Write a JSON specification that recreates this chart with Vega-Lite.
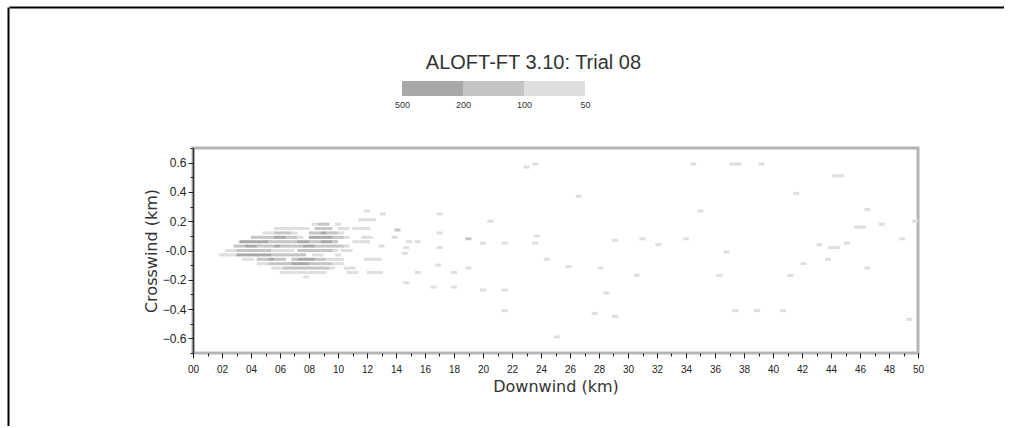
{
  "$schema": "https://vega.github.io/schema/vega-lite/v6.json",
  "background": "white",
  "padding": {"left": 8, "top": 7, "right": 0, "bottom": 0},
  "config": {"font": "Liberation Sans", "view": {"stroke": null}},
  "datasets": {
    "bands": [
      {"from": 500, "to": 200},
      {"from": 200, "to": 100},
      {"from": 100, "to": 50}
    ],
    "cluster": [
      {"x":1.16,"y":0.21,"conc":70},{"x":1.20,"y":0.21,"conc":70},{"x":1.24,"y":0.21,"conc":70},
      {"x":0.84,"y":0.18,"conc":70},{"x":0.88,"y":0.18,"conc":150},{"x":0.92,"y":0.18,"conc":150},{"x":1.00,"y":0.18,"conc":70},
      {"x":0.58,"y":0.15,"conc":70},{"x":0.62,"y":0.15,"conc":70},{"x":0.66,"y":0.15,"conc":70},{"x":0.70,"y":0.15,"conc":70},{"x":0.74,"y":0.15,"conc":70},{"x":0.78,"y":0.15,"conc":70},
      {"x":0.86,"y":0.15,"conc":150},{"x":0.90,"y":0.15,"conc":150},{"x":0.94,"y":0.15,"conc":150},
      {"x":1.02,"y":0.15,"conc":70},{"x":1.06,"y":0.15,"conc":70},{"x":1.12,"y":0.15,"conc":70},{"x":1.16,"y":0.15,"conc":70},{"x":1.20,"y":0.15,"conc":70},
      {"x":0.50,"y":0.12,"conc":70},{"x":0.54,"y":0.12,"conc":70},{"x":0.58,"y":0.12,"conc":150},{"x":0.62,"y":0.12,"conc":150},{"x":0.66,"y":0.12,"conc":150},{"x":0.70,"y":0.12,"conc":70},
      {"x":0.82,"y":0.12,"conc":150},{"x":0.86,"y":0.12,"conc":150},{"x":0.90,"y":0.12,"conc":320},{"x":0.94,"y":0.12,"conc":150},{"x":0.98,"y":0.12,"conc":150},{"x":1.02,"y":0.12,"conc":70},
      {"x":0.42,"y":0.09,"conc":150},{"x":0.46,"y":0.09,"conc":150},{"x":0.50,"y":0.09,"conc":150},{"x":0.54,"y":0.09,"conc":150},{"x":0.58,"y":0.09,"conc":320},{"x":0.62,"y":0.09,"conc":320},
      {"x":0.66,"y":0.09,"conc":150},{"x":0.70,"y":0.09,"conc":150},{"x":0.74,"y":0.09,"conc":70},{"x":0.82,"y":0.09,"conc":320},{"x":0.86,"y":0.09,"conc":320},{"x":0.90,"y":0.09,"conc":320},{"x":0.94,"y":0.09,"conc":320},
      {"x":0.98,"y":0.09,"conc":150},{"x":1.02,"y":0.09,"conc":150},{"x":1.06,"y":0.09,"conc":70},{"x":1.18,"y":0.09,"conc":70},{"x":1.22,"y":0.09,"conc":70},
      {"x":0.34,"y":0.06,"conc":320},{"x":0.38,"y":0.06,"conc":320},{"x":0.42,"y":0.06,"conc":320},{"x":0.46,"y":0.06,"conc":320},{"x":0.50,"y":0.06,"conc":320},
      {"x":0.54,"y":0.06,"conc":150},{"x":0.58,"y":0.06,"conc":150},{"x":0.62,"y":0.06,"conc":150},{"x":0.66,"y":0.06,"conc":150},{"x":0.70,"y":0.06,"conc":150},
      {"x":0.74,"y":0.06,"conc":320},{"x":0.78,"y":0.06,"conc":320},{"x":0.82,"y":0.06,"conc":150},{"x":0.86,"y":0.06,"conc":150},{"x":0.90,"y":0.06,"conc":320},{"x":0.94,"y":0.06,"conc":320},
      {"x":0.98,"y":0.06,"conc":150},{"x":1.12,"y":0.06,"conc":70},{"x":1.16,"y":0.06,"conc":70},{"x":1.20,"y":0.06,"conc":70},
      {"x":0.30,"y":0.03,"conc":150},{"x":0.34,"y":0.03,"conc":150},{"x":0.38,"y":0.03,"conc":320},{"x":0.42,"y":0.03,"conc":320},{"x":0.46,"y":0.03,"conc":150},{"x":0.50,"y":0.03,"conc":150},
      {"x":0.54,"y":0.03,"conc":150},{"x":0.58,"y":0.03,"conc":320},{"x":0.62,"y":0.03,"conc":150},{"x":0.66,"y":0.03,"conc":150},{"x":0.70,"y":0.03,"conc":150},{"x":0.74,"y":0.03,"conc":150},
      {"x":0.78,"y":0.03,"conc":320},{"x":0.82,"y":0.03,"conc":320},{"x":0.86,"y":0.03,"conc":150},{"x":0.90,"y":0.03,"conc":150},{"x":0.94,"y":0.03,"conc":150},{"x":0.98,"y":0.03,"conc":150},
      {"x":1.02,"y":0.03,"conc":150},{"x":1.06,"y":0.03,"conc":70},
      {"x":0.24,"y":0.00,"conc":70},{"x":0.28,"y":0.00,"conc":70},{"x":0.32,"y":0.00,"conc":150},{"x":0.36,"y":0.00,"conc":150},{"x":0.40,"y":0.00,"conc":150},{"x":0.44,"y":0.00,"conc":150},
      {"x":0.48,"y":0.00,"conc":150},{"x":0.52,"y":0.00,"conc":150},{"x":0.56,"y":0.00,"conc":70},{"x":0.60,"y":0.00,"conc":70},{"x":0.64,"y":0.00,"conc":70},{"x":0.68,"y":0.00,"conc":70},
      {"x":0.74,"y":0.00,"conc":150},{"x":0.78,"y":0.00,"conc":150},{"x":0.82,"y":0.00,"conc":150},{"x":0.86,"y":0.00,"conc":150},{"x":0.90,"y":0.00,"conc":150},{"x":0.94,"y":0.00,"conc":150},
      {"x":0.98,"y":0.00,"conc":70},{"x":1.04,"y":0.00,"conc":70},{"x":1.08,"y":0.00,"conc":70},
      {"x":0.20,"y":-0.03,"conc":70},{"x":0.24,"y":-0.03,"conc":70},{"x":0.28,"y":-0.03,"conc":70},{"x":0.32,"y":-0.03,"conc":320},{"x":0.36,"y":-0.03,"conc":320},{"x":0.40,"y":-0.03,"conc":320},
      {"x":0.44,"y":-0.03,"conc":320},{"x":0.48,"y":-0.03,"conc":320},{"x":0.52,"y":-0.03,"conc":320},{"x":0.56,"y":-0.03,"conc":150},{"x":0.60,"y":-0.03,"conc":150},{"x":0.64,"y":-0.03,"conc":150},
      {"x":0.68,"y":-0.03,"conc":150},{"x":0.72,"y":-0.03,"conc":150},{"x":0.76,"y":-0.03,"conc":150},{"x":0.84,"y":-0.03,"conc":70},{"x":0.88,"y":-0.03,"conc":70},{"x":1.00,"y":-0.03,"conc":70},
      {"x":0.36,"y":-0.06,"conc":70},{"x":0.40,"y":-0.06,"conc":70},{"x":0.46,"y":-0.06,"conc":150},{"x":0.50,"y":-0.06,"conc":150},{"x":0.54,"y":-0.06,"conc":320},{"x":0.58,"y":-0.06,"conc":150},
      {"x":0.62,"y":-0.06,"conc":150},{"x":0.70,"y":-0.06,"conc":150},{"x":0.74,"y":-0.06,"conc":320},{"x":0.78,"y":-0.06,"conc":320},{"x":0.82,"y":-0.06,"conc":320},{"x":0.86,"y":-0.06,"conc":150},
      {"x":0.90,"y":-0.06,"conc":150},{"x":0.94,"y":-0.06,"conc":70},{"x":0.98,"y":-0.06,"conc":70},{"x":1.02,"y":-0.06,"conc":70},{"x":1.20,"y":-0.06,"conc":70},{"x":1.24,"y":-0.06,"conc":70},{"x":1.28,"y":-0.06,"conc":70},
      {"x":0.46,"y":-0.09,"conc":70},{"x":0.50,"y":-0.09,"conc":70},{"x":0.54,"y":-0.09,"conc":150},{"x":0.58,"y":-0.09,"conc":150},{"x":0.62,"y":-0.09,"conc":150},{"x":0.66,"y":-0.09,"conc":150},
      {"x":0.70,"y":-0.09,"conc":320},{"x":0.74,"y":-0.09,"conc":320},{"x":0.78,"y":-0.09,"conc":320},{"x":0.82,"y":-0.09,"conc":150},{"x":0.86,"y":-0.09,"conc":150},{"x":0.90,"y":-0.09,"conc":150},
      {"x":0.94,"y":-0.09,"conc":150},{"x":0.98,"y":-0.09,"conc":70},{"x":1.02,"y":-0.09,"conc":70},
      {"x":0.56,"y":-0.12,"conc":70},{"x":0.60,"y":-0.12,"conc":70},{"x":0.64,"y":-0.12,"conc":150},{"x":0.68,"y":-0.12,"conc":150},{"x":0.72,"y":-0.12,"conc":150},{"x":0.76,"y":-0.12,"conc":150},
      {"x":0.80,"y":-0.12,"conc":150},{"x":0.84,"y":-0.12,"conc":150},{"x":0.88,"y":-0.12,"conc":150},{"x":0.92,"y":-0.12,"conc":150},{"x":0.96,"y":-0.12,"conc":70},{"x":1.06,"y":-0.12,"conc":70},{"x":1.10,"y":-0.12,"conc":70},
      {"x":0.62,"y":-0.15,"conc":70},{"x":0.66,"y":-0.15,"conc":70},{"x":0.70,"y":-0.15,"conc":70},{"x":0.74,"y":-0.15,"conc":70},{"x":0.78,"y":-0.15,"conc":70},{"x":0.82,"y":-0.15,"conc":70},
      {"x":0.86,"y":-0.15,"conc":70},{"x":0.90,"y":-0.15,"conc":70},{"x":1.08,"y":-0.15,"conc":70},{"x":1.12,"y":-0.15,"conc":70},{"x":1.22,"y":-0.15,"conc":70},{"x":1.26,"y":-0.15,"conc":70},
      {"x":0.78,"y":-0.18,"conc":70}
    ],
    "scattered": [
      {"x":1.20,"y":0.27,"conc":70},{"x":1.31,"y":0.25,"conc":70},{"x":1.41,"y":0.14,"conc":150},{"x":1.39,"y":0.09,"conc":70},
      {"x":1.49,"y":0.06,"conc":70},{"x":1.55,"y":0.06,"conc":70},{"x":1.30,"y":0.03,"conc":70},{"x":1.47,"y":0.02,"conc":70},
      {"x":1.46,"y":-0.02,"conc":70},{"x":1.29,"y":-0.15,"conc":70},{"x":1.55,"y":-0.15,"conc":70},{"x":1.47,"y":-0.22,"conc":70},
      {"x":1.66,"y":-0.25,"conc":70},{"x":1.70,"y":0.25,"conc":70},{"x":1.70,"y":0.12,"conc":70},{"x":1.70,"y":0.02,"conc":70},
      {"x":1.69,"y":-0.10,"conc":70},{"x":1.80,"y":-0.15,"conc":70},{"x":1.80,"y":-0.25,"conc":70},{"x":1.90,"y":0.08,"conc":150},
      {"x":1.90,"y":-0.12,"conc":70},{"x":2.00,"y":0.05,"conc":70},{"x":2.00,"y":-0.27,"conc":70},{"x":2.05,"y":0.20,"conc":70},
      {"x":2.15,"y":0.05,"conc":70},{"x":2.15,"y":-0.27,"conc":70},{"x":2.15,"y":-0.41,"conc":70},{"x":2.36,"y":0.05,"conc":70},
      {"x":2.37,"y":0.10,"conc":70},{"x":2.30,"y":0.57,"conc":70},{"x":2.36,"y":0.59,"conc":70},{"x":2.66,"y":0.37,"conc":70},
      {"x":2.44,"y":-0.06,"conc":70},{"x":2.59,"y":-0.11,"conc":70},{"x":2.81,"y":-0.12,"conc":70},{"x":2.91,"y":0.07,"conc":70},
      {"x":3.10,"y":0.08,"conc":70},{"x":3.21,"y":0.04,"conc":70},{"x":3.06,"y":-0.17,"conc":70},{"x":3.40,"y":0.08,"conc":70},
      {"x":3.45,"y":0.59,"conc":70},{"x":3.50,"y":0.27,"conc":70},{"x":3.63,"y":-0.17,"conc":70},{"x":3.68,"y":-0.01,"conc":70},
      {"x":3.72,"y":0.59,"conc":70},{"x":3.76,"y":0.59,"conc":70},{"x":3.74,"y":-0.41,"conc":70},{"x":3.89,"y":-0.41,"conc":70},
      {"x":3.92,"y":0.59,"conc":70},{"x":4.07,"y":-0.41,"conc":70},{"x":4.12,"y":-0.17,"conc":70},{"x":4.16,"y":0.39,"conc":70},
      {"x":4.21,"y":-0.09,"conc":70},{"x":4.32,"y":0.04,"conc":70},{"x":4.38,"y":-0.06,"conc":70},{"x":4.40,"y":0.02,"conc":70},
      {"x":4.44,"y":0.02,"conc":70},{"x":4.43,"y":0.51,"conc":70},{"x":4.47,"y":0.51,"conc":70},{"x":4.51,"y":0.05,"conc":70},
      {"x":4.58,"y":0.16,"conc":70},{"x":4.62,"y":0.16,"conc":70},{"x":4.65,"y":0.28,"conc":70},{"x":4.65,"y":-0.12,"conc":70},
      {"x":4.75,"y":0.18,"conc":70},{"x":4.89,"y":0.08,"conc":70},{"x":4.94,"y":-0.47,"conc":70},{"x":2.77,"y":-0.43,"conc":70},
      {"x":2.91,"y":-0.45,"conc":70},{"x":2.85,"y":-0.29,"conc":70},{"x":2.51,"y":-0.59,"conc":70},{"x":4.98,"y":0.20,"conc":70}
    ]
  },
  "spacing": 0,
  "hconcat": [
    {
      "width": 1,
      "height": 419,
      "data": {"values": []},
      "mark": "point",
      "encoding": {
        "y": {
          "field": "edge",
          "type": "quantitative",
          "scale": {"domain": [0, 1]},
          "axis": {"orient": "left", "domainColor": "#000000", "domainWidth": 2, "ticks": false, "labels": false, "grid": false, "title": null}
        }
      }
    },
    {
      "spacing": 45,
      "vconcat": [
        {
          "width": 995,
          "height": 1,
          "data": {"values": []},
          "mark": "point",
          "encoding": {
            "x": {
              "field": "edge",
              "type": "quantitative",
              "scale": {"domain": [0, 1]},
              "axis": {"orient": "top", "domainColor": "#000000", "domainWidth": 2, "ticks": false, "labels": false, "grid": false, "title": null}
            }
          }
        },
        {
          "spacing": 0,
          "hconcat": [
            {
              "width": 132,
              "height": 1,
              "data": {"values": []},
              "mark": "rect",
              "encoding": {}
            },
            {
              "title": {
                "text": "ALOFT-FT 3.10: Trial 08",
                "anchor": "middle",
                "font": "Liberation Sans",
                "fontSize": 20,
                "fontWeight": "normal",
                "color": "#333333",
                "offset": 8
              },
              "spacing": 37,
              "vconcat": [
                {
                  "spacing": 0,
                  "hconcat": [
                    {
                      "width": 201,
                      "height": 15,
                      "data": {"values": []},
                      "mark": "rect",
                      "encoding": {}
                    },
                    {
                      "data": {"name": "bands"},
                      "width": 183,
                      "height": 15,
                      "mark": {"type": "rect"},
                      "encoding": {
                        "x": {
                          "field": "from",
                          "type": "ordinal",
                          "scale": {"type": "point", "domain": [500, 200, 100, 50], "padding": 0},
                          "axis": {"title": null, "domain": false, "ticks": false, "labelFontSize": 9, "labelPadding": 4, "labelColor": "#333333", "labelAngle": 0}
                        },
                        "x2": {"field": "to"},
                        "color": {
                          "field": "to",
                          "type": "quantitative",
                          "scale": {"type": "threshold", "domain": [100, 200], "range": ["#dedede", "#c4c4c4", "#a8a8a8"]},
                          "legend": null
                        }
                      }
                    }
                  ]
                },
                {
                  "width": 725,
                  "height": 205,
                  "view": {"stroke": "#b5b5b5", "strokeWidth": 3},
                  "resolve": {"axis": {"x": "independent", "y": "independent"}},
                  "layer": [
                    {
                      "data": {"name": "cluster"},
                      "mark": {"type": "tick", "orient": "horizontal", "size": 6, "thickness": 3, "opacity": 1},
                      "encoding": {
                        "x": {
                          "field": "x",
                          "type": "quantitative",
                          "scale": {"domain": [0, 5], "nice": false, "zero": false},
                          "axis": {
                            "orient": "bottom",
                            "values": [0, 0.2, 0.4, 0.6, 0.8, 1, 1.2, 1.4, 1.6, 1.8, 2, 2.2, 2.4, 2.6, 2.8, 3, 3.2, 3.4, 3.6, 3.8, 4, 4.2, 4.4, 4.6, 4.8, 5],
                            "labelExpr": "replace(format(datum.value, '.1f'), '.', '')",
                            "title": "Downwind (km)",
                            "domain": false,
                            "grid": false,
                            "tickSize": 5,
                            "tickColor": "#222222",
                            "labelFontSize": 10,
                            "labelPadding": 6,
                            "labelColor": "#222222",
                            "labelFlush": false,
                            "labelOverlap": false,
                            "titleFont": "DejaVu Sans",
                            "titleFontSize": 16,
                            "titleFontWeight": "normal",
                            "titleColor": "#333333",
                            "titlePadding": 4
                          }
                        },
                        "y": {
                          "field": "y",
                          "type": "quantitative",
                          "scale": {"domain": [-0.7, 0.7], "nice": false, "zero": false},
                          "axis": {
                            "orient": "left",
                            "values": [-0.6, -0.4, -0.2, 0, 0.2, 0.4, 0.6],
                            "labelExpr": "datum.value === 0 ? '-0.0' : format(datum.value, '.1f')",
                            "title": "Crosswind (km)",
                            "domain": true,
                            "domainColor": "#333333",
                            "domainWidth": 1.5,
                            "grid": false,
                            "tickSize": 5,
                            "tickColor": "#222222",
                            "labelFontSize": 12,
                            "labelPadding": 2,
                            "labelColor": "#222222",
                            "labelFlush": false,
                            "titleFont": "DejaVu Sans",
                            "titleFontSize": 16,
                            "titleFontWeight": "normal",
                            "titleColor": "#333333",
                            "titlePadding": 3
                          }
                        },
                        "color": {
                          "field": "conc",
                          "type": "quantitative",
                          "scale": {"type": "threshold", "domain": [100, 200], "range": ["#dedede", "#c4c4c4", "#a8a8a8"]},
                          "legend": null
                        }
                      }
                    },
                    {
                      "data": {"name": "scattered"},
                      "mark": {"type": "tick", "orient": "horizontal", "size": 6, "thickness": 3, "opacity": 1},
                      "encoding": {
                        "x": {
                          "field": "x",
                          "type": "quantitative",
                          "axis": {
                            "orient": "bottom",
                            "values": [0, 0.1, 0.2, 0.3, 0.4, 0.5, 0.6, 0.7, 0.8, 0.9, 1, 1.1, 1.2, 1.3, 1.4, 1.5, 1.6, 1.7, 1.8, 1.9, 2, 2.1, 2.2, 2.3, 2.4, 2.5, 2.6, 2.7, 2.8, 2.9, 3, 3.1, 3.2, 3.3, 3.4, 3.5, 3.6, 3.7, 3.8, 3.9, 4, 4.1, 4.2, 4.3, 4.4, 4.5, 4.6, 4.7, 4.8, 4.9, 5],
                            "labels": false,
                            "title": null,
                            "domain": false,
                            "grid": false,
                            "tickSize": 3,
                            "tickColor": "#222222"
                          }
                        },
                        "y": {
                          "field": "y",
                          "type": "quantitative",
                          "axis": {
                            "orient": "left",
                            "values": [-0.7, -0.6, -0.5, -0.4, -0.3, -0.2, -0.1, 0, 0.1, 0.2, 0.3, 0.4, 0.5, 0.6, 0.7],
                            "labels": false,
                            "title": null,
                            "domain": false,
                            "grid": false,
                            "tickSize": 3,
                            "tickColor": "#222222"
                          }
                        },
                        "color": {
                          "field": "conc",
                          "type": "quantitative",
                          "scale": {"type": "threshold", "domain": [100, 200], "range": ["#dedede", "#c4c4c4", "#a8a8a8"]},
                          "legend": null
                        }
                      }
                    }
                  ]
                }
              ]
            }
          ]
        }
      ]
    }
  ]
}
